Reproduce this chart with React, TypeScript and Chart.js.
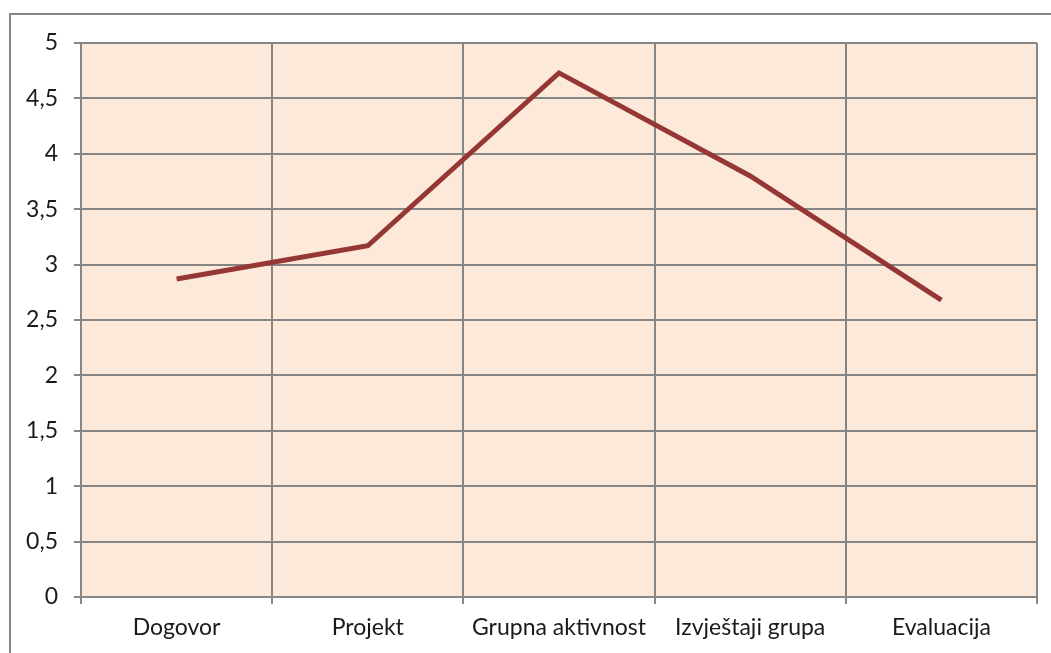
import React, { useEffect, useRef } from "react";
import { Chart, registerables } from "chart.js";

Chart.register(...registerables);

const categories = ["Dogovor", "Projekt", "Grupna aktivnost", "Izvještaji grupa", "Evaluacija"];
const values = [2.87, 3.17, 4.73, 3.8, 2.68];
const yMin = 0;
const yMax = 5;
const yStep = 0.5;

const GRID = "#868686";
const LINE = "#953735";
const FILL = "#FDE9D9";
const FONT = "Lato";

const decor = {
  id: "decor",
  beforeDraw(chart: any) {
    const { ctx, chartArea } = chart;
    ctx.save();
    ctx.fillStyle = FILL;
    ctx.fillRect(chartArea.left, chartArea.top, chartArea.right - chartArea.left, chartArea.bottom - chartArea.top);
    ctx.strokeStyle = GRID;
    ctx.lineWidth = 2;
    ctx.beginPath();
    ctx.moveTo(10, 700);
    ctx.lineTo(10, 14);
    ctx.lineTo(1100, 14);
    ctx.stroke();
    ctx.restore();
  },
};

export default function App() {
  const ref = useRef<HTMLCanvasElement | null>(null);
  useEffect(() => {
    if (!ref.current) return;
    const chart = new Chart(ref.current, {
      type: "line",
      data: {
        labels: categories,
        datasets: [
          {
            data: values,
            borderColor: LINE,
            borderWidth: 5,
            pointRadius: 0,
            tension: 0,
            fill: false,
          },
        ],
      },
      options: {
        animation: false,
        responsive: false,
        maintainAspectRatio: false,
        layout: { padding: { left: 0, top: 43, right: 14, bottom: 0 } },
        plugins: { legend: { display: false }, tooltip: { enabled: false } },
        scales: {
          x: {
            type: "category",
            offset: true,
            grid: { offset: true, color: GRID, lineWidth: 2, tickLength: 7, drawTicks: true },
            border: { color: GRID, width: 2 },
            ticks: { color: "#1a1a1a", font: { family: FONT, size: 23 }, padding: 10, maxRotation: 0, autoSkip: false },
            afterFit(scale: any) {
              scale.height = 56;
            },
          },
          y: {
            min: yMin,
            max: yMax,
            grid: { color: GRID, lineWidth: 2, tickLength: 7 },
            border: { color: GRID, width: 2 },
            ticks: {
              stepSize: yStep,
              color: "#1a1a1a",
              font: { family: FONT, size: 23 },
              padding: 16,
              callback: (v: any) => String(v).replace(".", ","),
            },
            afterFit(scale: any) {
              scale.width = 81;
            },
          },
        },
      },
      plugins: [decor],
    });
    return () => chart.destroy();
  }, []);
  return (
    <div style={{ position: "absolute", left: 0, top: 0, width: 1051, height: 653, background: "#fff" }}>
      <canvas ref={ref} width={1051} height={653} style={{ display: "block" }} />
    </div>
  );
}
